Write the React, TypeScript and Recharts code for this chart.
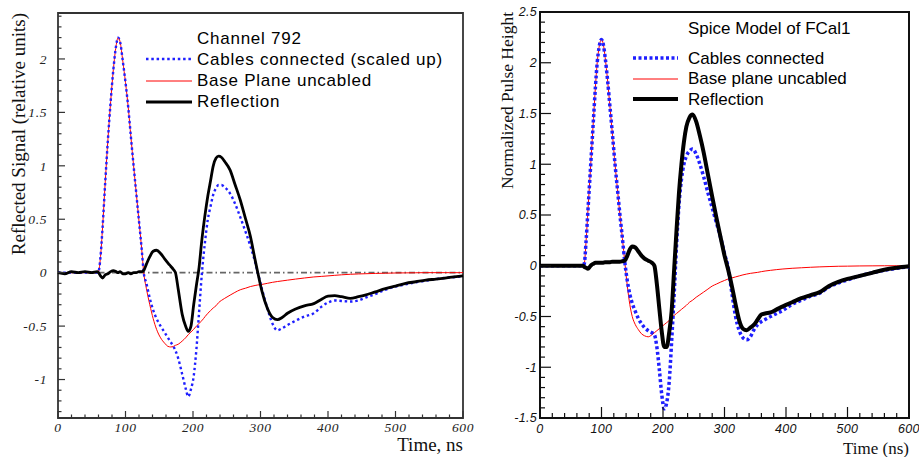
import React from "react";
import { LineChart, Line, XAxis, YAxis, ReferenceLine, ReferenceArea, Legend } from "recharts";

// ---------- left panel: measured, Channel 792 ----------
const LEFT_TIME = [
  0, 10, 20, 30, 40, 50, 58, 60, 63, 66,
  70, 74, 78, 82, 86, 89, 92, 96, 100, 104,
  108, 112, 116, 120, 124, 127, 131, 136, 141, 146,
  152, 158, 163, 167, 171, 174, 178, 184, 189, 193,
  197, 201, 205, 209, 213, 218, 222, 226, 230, 234,
  238, 242, 247, 255, 262, 270, 278, 285, 292, 296,
  302, 310, 318, 325, 332, 340, 352, 365, 379, 390,
  400, 410, 420, 433, 445, 455, 470, 485, 500, 515,
  530, 545, 560, 580, 600,
];
const LEFT_BASE = [
  0, 0, 0, 0, 0, 0, 0, 0.01, 0.15, 0.42,
  0.85, 1.25, 1.6, 1.9, 2.12, 2.2, 2.16, 1.98, 1.78, 1.55,
  1.27, 1.0, 0.74, 0.48, 0.22, 0.0, -0.15, -0.3, -0.43, -0.53,
  -0.61, -0.66, -0.69, -0.695, -0.69, -0.68, -0.67, -0.64, -0.61, -0.58,
  -0.555, -0.53, -0.5, -0.475, -0.45, -0.41, -0.38, -0.355, -0.33, -0.31,
  -0.28, -0.26, -0.24, -0.21, -0.185, -0.16, -0.145, -0.13, -0.12, -0.115,
  -0.11, -0.1, -0.09, -0.083, -0.077, -0.07, -0.06, -0.05, -0.04, -0.035,
  -0.03, -0.025, -0.02, -0.015, -0.012, -0.01, -0.007, -0.005, -0.003, -0.002,
  -0.001, 0, 0, 0, 0,
];
const LEFT_CABLES = [
  0, 0, 0, 0, 0, 0, 0, 0.01, 0.15, 0.42,
  0.85, 1.25, 1.6, 1.9, 2.12, 2.2, 2.16, 1.98, 1.78, 1.55,
  1.27, 1.0, 0.74, 0.48, 0.22, 0.0, -0.1, -0.24, -0.35, -0.43,
  -0.5, -0.56, -0.61, -0.65, -0.69, -0.73, -0.8, -0.95, -1.08, -1.16,
  -1.09, -0.97, -0.72, -0.37, -0.02, 0.3, 0.5, 0.62, 0.73, 0.79,
  0.82, 0.82, 0.8, 0.74, 0.65, 0.52, 0.38, 0.25, 0.1, 0.0,
  -0.15, -0.33, -0.48, -0.54, -0.52, -0.49, -0.45, -0.41, -0.38, -0.32,
  -0.28, -0.26, -0.265, -0.27, -0.26, -0.235, -0.2, -0.16, -0.13, -0.11,
  -0.09, -0.075, -0.06, -0.045, -0.035,
];
const LEFT_REFLECTION = [
  0, -0.01, 0.01, 0, 0.01, 0, 0.01, 0, -0.03, -0.05,
  -0.02, -0.01, 0.01, 0.02, 0.01, 0, 0.01, -0.01, -0.01, 0,
  -0.01, 0, 0, 0.01, 0.01, 0.02, 0.08, 0.15, 0.2, 0.21,
  0.18, 0.13, 0.09, 0.06, 0.03, 0.0, -0.15, -0.39, -0.5, -0.55,
  -0.5, -0.3, -0.12, 0.05, 0.3, 0.55, 0.72, 0.86, 1.0, 1.07,
  1.09, 1.08, 1.04, 0.96, 0.83, 0.68, 0.5, 0.34, 0.12, 0.0,
  -0.17, -0.33, -0.42, -0.44, -0.42, -0.38, -0.34, -0.31, -0.29, -0.25,
  -0.22, -0.215, -0.225, -0.24, -0.225, -0.21, -0.18, -0.15, -0.125, -0.1,
  -0.085, -0.07, -0.06, -0.045, -0.03,
];

// ---------- right panel: Spice model of FCal1 ----------
const RIGHT_TIME = [
  0, 20, 40, 60, 70, 72, 75, 78, 81, 84,
  87, 90, 93, 96, 100, 103, 106, 110, 114, 118,
  122, 126, 130, 134, 138, 142, 146, 150, 155, 160,
  165, 170, 176, 182, 186, 190, 194, 198, 202, 206,
  210, 214, 218, 222, 226, 230, 234, 238, 243, 248,
  254, 260, 266, 273, 280, 287, 294, 300, 306, 312,
  318, 324, 330, 336, 342, 348, 354, 360, 366, 375,
  385, 395, 410, 425, 440, 455, 470, 485, 500, 520,
  540, 560, 580, 600,
];
const RIGHT_BASE = [
  0, 0, 0, 0, 0, 0.02, 0.25, 0.55, 0.85, 1.15,
  1.45, 1.75, 2.0, 2.15, 2.23, 2.18, 2.05, 1.82, 1.55, 1.28,
  1.0, 0.75, 0.5, 0.27, 0.03, -0.2, -0.38, -0.5, -0.58, -0.63,
  -0.67, -0.69, -0.7, -0.68, -0.66, -0.64, -0.62, -0.6, -0.58, -0.56,
  -0.54, -0.51, -0.49, -0.47, -0.45, -0.43, -0.41, -0.39, -0.36, -0.34,
  -0.31, -0.285, -0.26, -0.23, -0.2, -0.18, -0.16, -0.145, -0.13, -0.12,
  -0.11, -0.1, -0.09, -0.082, -0.075, -0.07, -0.065, -0.058, -0.052, -0.045,
  -0.038, -0.032, -0.025, -0.02, -0.015, -0.011, -0.008, -0.005, -0.004, -0.002,
  -0.001, 0, 0, 0,
];
const RIGHT_CABLES = [
  0, 0, 0, 0, 0, 0.02, 0.25, 0.55, 0.85, 1.15,
  1.45, 1.75, 2.0, 2.15, 2.23, 2.18, 2.05, 1.82, 1.55, 1.28,
  1.0, 0.75, 0.5, 0.27, 0.03, -0.15, -0.28, -0.37, -0.45, -0.52,
  -0.57, -0.61, -0.64, -0.66, -0.68, -0.8, -1.02, -1.27, -1.41, -1.35,
  -1.15, -0.75, -0.3, 0.2, 0.6, 0.85, 1.0, 1.08, 1.13, 1.15,
  1.1, 1.0, 0.88, 0.72, 0.57, 0.42, 0.27, 0.12, -0.02, -0.27,
  -0.5, -0.64, -0.71, -0.73, -0.7, -0.63, -0.58, -0.55, -0.53, -0.5,
  -0.47, -0.44, -0.38, -0.34, -0.3, -0.27, -0.21, -0.17, -0.14, -0.1,
  -0.07, -0.045, -0.025, -0.01,
];
const RIGHT_REFLECTION = [
  0, 0, 0, 0, 0, -0.01, -0.02, -0.03, -0.01, 0.01,
  0.02, 0.03, 0.03, 0.03, 0.03, 0.03, 0.035, 0.035, 0.035, 0.04,
  0.04, 0.04, 0.04, 0.045, 0.05, 0.1, 0.16, 0.19, 0.18, 0.14,
  0.1, 0.07, 0.05, 0.03, 0.0, -0.18, -0.42, -0.65, -0.8, -0.8,
  -0.66, -0.45, -0.05, 0.35, 0.72, 1.0, 1.22, 1.37, 1.46, 1.49,
  1.42, 1.28, 1.12, 0.9, 0.68, 0.47, 0.27, 0.1, -0.04, -0.2,
  -0.38, -0.54, -0.62, -0.635, -0.61, -0.58, -0.53, -0.48, -0.47, -0.46,
  -0.43, -0.4, -0.36, -0.32, -0.29, -0.26, -0.2, -0.16, -0.13, -0.1,
  -0.07, -0.04, -0.02, -0.005,
];

// ---------- axes ----------
const X_LABELS = [0, 100, 200, 300, 400, 500, 600];
const LEFT_Y_LABELS = [-1, -0.5, 0, 0.5, 1, 1.5, 2];
const RIGHT_Y_LABELS = [-1.5, -1, -0.5, 0, 0.5, 1, 1.5, 2, 2.5];
const LEFT_Y_DOMAIN = [-1.36, 2.43];
const RIGHT_Y_DOMAIN = [-1.5, 2.5];

function steps(from: number, to: number, step: number) {
  const out: number[] = [];
  const n = Math.round((to - from) / step);
  for (let i = 0; i <= n; i++) out.push(Math.round((from + i * step) * 100) / 100);
  return out;
}

const X_TICKS = steps(0, 600, 20);
const LEFT_Y_TICKS = steps(-1.3, 2.4, 0.1);
const RIGHT_Y_TICKS = steps(-1.5, 2.5, 0.1);

const leftData = LEFT_TIME.map((t, i) => ({
  t,
  cables: LEFT_CABLES[i],
  base: LEFT_BASE[i],
  reflection: LEFT_REFLECTION[i],
}));
const rightData = RIGHT_TIME.map((t, i) => ({
  t,
  cables: RIGHT_CABLES[i],
  base: RIGHT_BASE[i],
  reflection: RIGHT_REFLECTION[i],
}));

const SANS = '"Liberation Sans", Arial, Helvetica, sans-serif';
const SERIF = '"Liberation Serif", "Times New Roman", serif';

type Series = { key: string; name: string; color: string; width: number; dash?: string };

const LEFT_SERIES: Series[] = [
  { key: "cables", name: "Cables connected (scaled up)", color: "#1f1fff", width: 2.4, dash: "2.5 2.8" },
  { key: "base", name: "Base Plane uncabled", color: "#ff0000", width: 1 },
  { key: "reflection", name: "Reflection", color: "#000000", width: 2.8 },
];
const RIGHT_SERIES: Series[] = [
  { key: "cables", name: "Cables connected", color: "#1f1fff", width: 3.5, dash: "3 2.5" },
  { key: "base", name: "Base plane uncabled", color: "#ff0000", width: 1 },
  { key: "reflection", name: "Reflection", color: "#000000", width: 4 },
];

type AxisLook = {
  font: string;
  size: number;
  spacing: number;
  color: string;
  tickColor: string;
  tickWidth: number;
  majorLen: number;
  minorLen: number;
  xLabelDy: number;
  yLabelDx: number;
};

const LEFT_LOOK: AxisLook = {
  font: SERIF, size: 13.5, spacing: 0.6, color: "#222",
  tickColor: "#333", tickWidth: 1.2, majorLen: 7, minorLen: 3.5,
  xLabelDy: 14, yLabelDx: 11,
};
const RIGHT_LOOK: AxisLook = {
  font: SANS, size: 12.5, spacing: 0.3, color: "#111",
  tickColor: "#111", tickWidth: 1.2, majorLen: 11, minorLen: 5,
  xLabelDy: 14.5, yLabelDx: 3,
};

function makeXTick(look: AxisLook) {
  return (props: any) => {
    const { x, y, payload } = props;
    const v = payload.value;
    const major = X_LABELS.includes(v);
    return (
      <g>
        <line x1={x} x2={x} y1={y} y2={y - (major ? look.majorLen : look.minorLen)}
          stroke={look.tickColor} strokeWidth={look.tickWidth} />
        {major && (
          <text x={x} y={y + look.xLabelDy} textAnchor="middle" fontFamily={look.font}
            fontStyle="italic" fontSize={look.size} letterSpacing={look.spacing} fill={look.color}>
            {v}
          </text>
        )}
      </g>
    );
  };
}

function makeYTick(look: AxisLook, labels: number[]) {
  return (props: any) => {
    const { x, y, payload } = props;
    const v = payload.value;
    const major = labels.includes(v);
    return (
      <g>
        <line x1={x} x2={x + (major ? look.majorLen : look.minorLen)} y1={y} y2={y}
          stroke={look.tickColor} strokeWidth={look.tickWidth} />
        {major && (
          <text x={x - look.yLabelDx} y={y + look.size * 0.35} textAnchor="end" fontFamily={look.font}
            fontStyle="italic" fontSize={look.size} letterSpacing={look.spacing} fill={look.color}>
            {v}
          </text>
        )}
      </g>
    );
  };
}

type LegendLook = {
  title: string;
  series: Series[];
  size: number;
  spacing: number;
  rowH: number;
  sampleW: number;
  gap: number;
  titleGap: number;
};

function makeLegend(look: LegendLook) {
  return () => (
    <div style={{ fontFamily: SANS, fontSize: look.size, letterSpacing: look.spacing, color: "#000", lineHeight: 1, whiteSpace: "nowrap" }}>
      <div style={{ height: look.rowH, display: "flex", alignItems: "center", paddingLeft: look.sampleW + look.gap, marginBottom: look.titleGap }}>
        {look.title}
      </div>
      {look.series.map((s) => (
        <div key={s.key} style={{ height: look.rowH, display: "flex", alignItems: "center" }}>
          <svg width={look.sampleW} height={10} style={{ marginRight: look.gap, display: "block" }}>
            <line x1={0} x2={look.sampleW} y1={5} y2={5} stroke={s.color} strokeWidth={s.width} strokeDasharray={s.dash} />
          </svg>
          <span>{s.name}</span>
        </div>
      ))}
    </div>
  );
}

function LeftPanel() {
  return (
    <LineChart width={480} height={457} data={leftData}
      margin={{ top: 13, right: 17, bottom: 0, left: 0 }}
      style={{ position: "absolute", left: 0, top: 0 }}>
      <XAxis dataKey="t" type="number" domain={[0, 600]} ticks={X_TICKS} interval={0}
        height={39} axisLine={false} tickLine={false} tickSize={0} tickMargin={0}
        tick={makeXTick(LEFT_LOOK)}
        label={(p: any) => {
          const vb = p.viewBox || { x: 58, y: 418, width: 405, height: 39 };
          return (
            <text x={vb.x + vb.width} y={vb.y + 32.5} textAnchor="end" fontFamily={SERIF} fontSize={19} fill="#111">
              Time, ns
            </text>
          );
        }} />
      <YAxis type="number" domain={LEFT_Y_DOMAIN} allowDataOverflow ticks={LEFT_Y_TICKS} interval={0}
        width={58} axisLine={false} tickLine={false} tickSize={0} tickMargin={0}
        tick={makeYTick(LEFT_LOOK, LEFT_Y_LABELS)}
        label={(p: any) => {
          const vb = p.viewBox || { x: 0, y: 13, width: 58, height: 405 };
          const x = vb.x + 25;
          const y = vb.y;
          return (
            <text x={x} y={y} transform={`rotate(-90 ${x} ${y})`} textAnchor="end" fontFamily={SERIF} fontSize={19} fill="#111">
              Reflected Signal (relative units)
            </text>
          );
        }} />
      <ReferenceLine y={0} stroke="#666" strokeWidth={1.6} strokeDasharray="6 3 1.5 3" />
      <ReferenceArea x1={0} x2={600} y1={LEFT_Y_DOMAIN[0]} y2={LEFT_Y_DOMAIN[1]} fill="none" fillOpacity={0}
        stroke="#333" strokeWidth={1.8} ifOverflow="visible" />
      <Line type="monotone" dataKey="base" name="Base Plane uncabled" stroke="#ff0000" strokeWidth={1}
        dot={false} isAnimationActive={false} />
      <Line type="monotone" dataKey="cables" name="Cables connected (scaled up)" stroke="#1f1fff" strokeWidth={2.4}
        strokeDasharray="2.5 2.8" dot={false} isAnimationActive={false} />
      <Line type="monotone" dataKey="reflection" name="Reflection" stroke="#000" strokeWidth={2.8}
        dot={false} isAnimationActive={false} />
      <Legend layout="horizontal" verticalAlign="middle" align="center"
        wrapperStyle={{ position: "absolute", left: 146, top: 27.4, width: 320, height: 90 }}
        content={makeLegend({
          title: "Channel 792", series: LEFT_SERIES, size: 17, spacing: 0.75,
          rowH: 21.3, sampleW: 46, gap: 5, titleGap: 0,
        })} />
    </LineChart>
  );
}

function RightPanel() {
  return (
    <LineChart width={449} height={457} data={rightData}
      margin={{ top: 12, right: 10, bottom: 0, left: 0 }}
      style={{ position: "absolute", left: 470, top: 0 }}>
      <XAxis dataKey="t" type="number" domain={[0, 600]} ticks={X_TICKS} interval={0}
        height={39} axisLine={false} tickLine={false} tickSize={0} tickMargin={0}
        tick={makeXTick(RIGHT_LOOK)}
        label={(p: any) => {
          const vb = p.viewBox || { x: 70, y: 418, width: 369, height: 39 };
          return (
            <text x={vb.x + vb.width} y={vb.y + 36} textAnchor="end" fontFamily={SERIF} fontSize={17} fill="#111">
              Time (ns)
            </text>
          );
        }} />
      <YAxis type="number" domain={RIGHT_Y_DOMAIN} allowDataOverflow ticks={RIGHT_Y_TICKS} interval={0}
        width={70} axisLine={false} tickLine={false} tickSize={0} tickMargin={0}
        tick={makeYTick(RIGHT_LOOK, RIGHT_Y_LABELS)}
        label={(p: any) => {
          const vb = p.viewBox || { x: 0, y: 12, width: 70, height: 406 };
          const x = vb.x + 43;
          const y = vb.y;
          return (
            <text x={x} y={y} transform={`rotate(-90 ${x} ${y})`} textAnchor="end" fontFamily={SERIF} fontSize={17.5} fill="#111">
              Normalized Pulse Height
            </text>
          );
        }} />
      <ReferenceArea x1={0} x2={600} y1={RIGHT_Y_DOMAIN[0]} y2={RIGHT_Y_DOMAIN[1]} fill="none" fillOpacity={0}
        stroke="#111" strokeWidth={2} ifOverflow="visible" />
      <Line type="monotone" dataKey="base" name="Base plane uncabled" stroke="#ff0000" strokeWidth={1}
        dot={false} isAnimationActive={false} />
      <Line type="monotone" dataKey="cables" name="Cables connected" stroke="#1f1fff" strokeWidth={3.5}
        strokeDasharray="3 2.5" dot={false} isAnimationActive={false} />
      <Line type="monotone" dataKey="reflection" name="Reflection" stroke="#000" strokeWidth={4}
        dot={false} isAnimationActive={false} />
      <Legend layout="horizontal" verticalAlign="middle" align="center"
        wrapperStyle={{ position: "absolute", left: 163, top: 17.75, width: 280, height: 100 }}
        content={makeLegend({
          title: "Spice Model of FCal1", series: RIGHT_SERIES, size: 17, spacing: 0,
          rowH: 20.5, sampleW: 45, gap: 10, titleGap: 9.5,
        })} />
    </LineChart>
  );
}

export default function App() {
  return (
    <div style={{ position: "relative", width: 919, height: 457, background: "#fff", overflow: "hidden" }}>
      <style>{"body{margin:0}"}</style>
      <LeftPanel />
      <RightPanel />
    </div>
  );
}
